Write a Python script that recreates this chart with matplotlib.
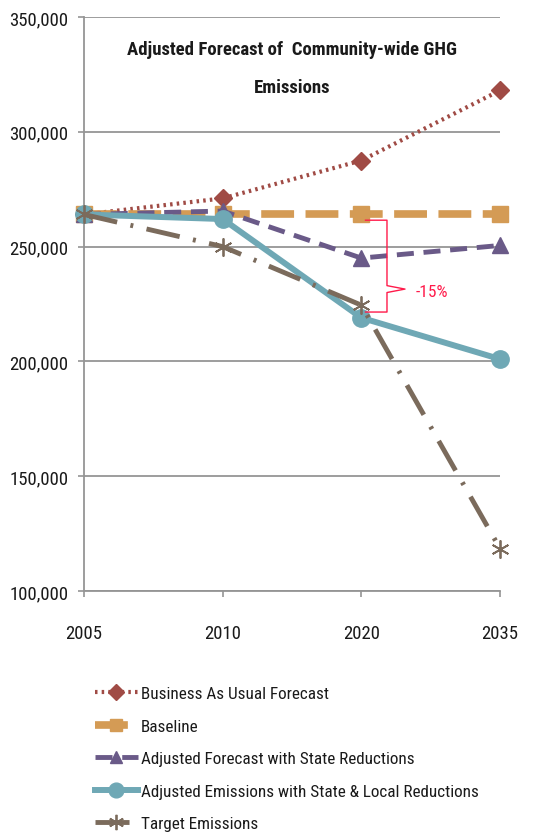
import matplotlib
matplotlib.use('Agg')
import matplotlib.pyplot as plt
from matplotlib import font_manager
from matplotlib.ticker import FuncFormatter

# --- 字体: 找一个窄体 ---
names = {f.name for f in font_manager.fontManager.ttflist}
cands = ['Liberation Sans Narrow', 'Roboto Condensed', 'Open Sans Condensed',
         'DejaVu Sans Condensed', 'Lato']
found = [c for c in cands if c in names]
plt.rcParams['font.family'] = found[:1] + ['DejaVu Sans']

# --- 数据 ---
years = ['2005', '2010', '2020', '2035']
bau = [264000, 271000, 287500, 318000]
baseline = [264000, 264000, 264000, 264000]
adj_state = [264000, 265500, 245000, 250500]
adj_local = [264000, 262000, 219000, 201000]
target = [264000, 250000, 224500, 118500]
labels = ['Business As Usual Forecast', 'Baseline',
          'Adjusted Forecast with State Reductions',
          'Adjusted Emissions with State & Local Reductions',
          'Target Emissions']

# --- 配色 ---
C_BAU = '#a04b45'
C_BASE = '#d49b55'
C_STATE = '#6a5a88'
C_LOCAL = '#6fa8b5'
C_TARGET = '#7b6b5c'
C_GRID = '#959595'
C_TEXT = '#1a1a1a'
C_RED = '#ff1a4a'

fig = plt.figure(figsize=(5.48, 8.37), dpi=100, facecolor='white')
ax = fig.add_axes([84 / 548, 1 - 592 / 837, 416 / 548, 574 / 837])

x = list(range(len(years)))

ax.plot(x, bau, color=C_BAU, linestyle=(0, (0.6, 1.0)), linewidth=3,
        marker='D', markersize=9, clip_on=False, zorder=3, label=labels[0])
ax.plot(x, baseline, color=C_BASE, linestyle=(0, (4.3, 1.5)), linewidth=5.5,
        marker='s', markersize=11, clip_on=False, zorder=4, label=labels[1])
ax.plot(x, adj_state, color=C_STATE, linestyle=(0, (3.5, 2.0)), linewidth=3.5,
        marker='^', markersize=11, clip_on=False, zorder=5, label=labels[2])
ax.plot(x, adj_local, color=C_LOCAL, linestyle='-', linewidth=4.3,
        marker='o', markersize=12.5, clip_on=False, zorder=6, label=labels[3])
ax.plot(x, target, color=C_TARGET, linestyle=(0, (7, 2.8, 0.6, 2.8)), linewidth=3.5,
        marker=(6, 2, 0), markersize=13, markeredgewidth=1.3, clip_on=False,
        zorder=7, label=labels[4])

# --- 坐标轴 ---
ax.set_xlim(0, 3)
ax.set_ylim(100000, 350000)
ax.set_yticks(range(100000, 350001, 50000))
ax.yaxis.set_major_formatter(FuncFormatter(lambda v, p: f'{int(v):,}'))
ax.set_xticks(x)
ax.set_xticklabels(years)
ax.grid(True, axis='y', color=C_GRID, linewidth=1.3)
ax.set_axisbelow(True)
for s in ['top', 'right']:
    ax.spines[s].set_visible(False)
for s in ['left', 'bottom']:
    ax.spines[s].set_color(C_GRID)
    ax.spines[s].set_linewidth(1.3)
ax.tick_params(axis='both', colors=C_GRID, length=4, width=1.2,
               labelcolor=C_TEXT, labelsize=13.5)
ax.tick_params(axis='x', pad=20)
ax.tick_params(axis='y', pad=7)

# --- 标题 ---
ax.text(1.5, 340000, 'Adjusted Forecast of  Community-wide GHG\nEmissions',
        ha='center', va='top', fontsize=13.5, fontweight='bold', color=C_TEXT,
        linespacing=2.45)

# --- -15% 括号 ---
top = baseline[2] - 2500
bot = adj_local[2] + 2500
tip = bot + (top - bot) * 0.25
bx = 2.185
ax.plot([2.03, bx, bx, bx + 0.13, bx, bx, 2.03],
        [top, top, tip + 1500, tip, tip - 1500, bot, bot],
        color=C_RED, linewidth=1.0, zorder=8, clip_on=False)
ax.text(2.39, tip - 1000, '-15%', color=C_RED, fontsize=12.5, ha='left', va='center')

# --- 图例 ---
fig.legend(loc='upper left', bbox_to_anchor=(95 / 548, 1 - 687 / 837),
           frameon=False, fontsize=12.3, handlelength=2.5, handletextpad=0.2,
           labelspacing=1.03, borderpad=0, borderaxespad=0,
           markerscale=0.85, labelcolor=C_TEXT)

fig.savefig('out.png', dpi=100, facecolor='white')
